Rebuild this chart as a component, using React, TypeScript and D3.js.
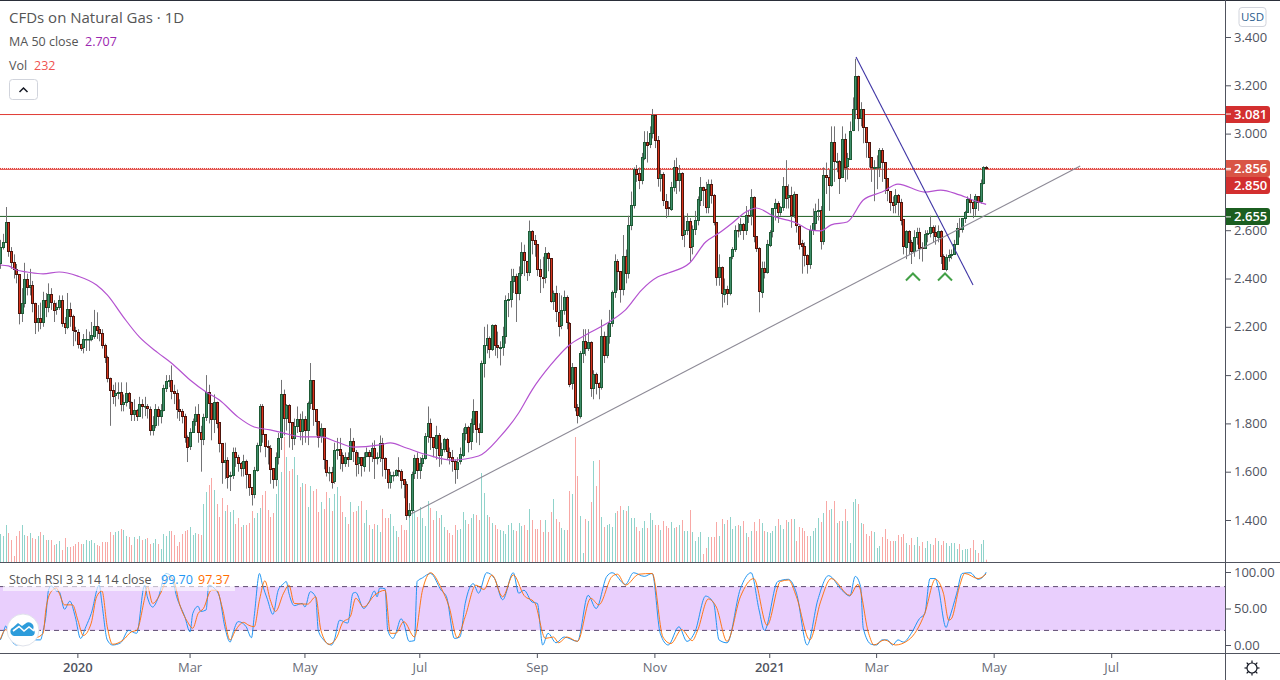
import React from 'react';
import * as d3 from 'd3';

// daily candles (index 0 = left edge)
const opens = [
  2.464,2.53,2.551,2.634,2.514,2.468,2.44,2.42,2.26,2.30,
  2.40,2.365,2.375,2.30,2.22,2.235,2.22,2.31,2.28,2.335,
  2.30,2.27,2.28,2.31,2.215,2.20,2.275,2.245,2.185,2.18,
  2.13,2.115,2.15,2.15,2.15,2.165,2.205,2.19,2.175,2.125,
  2.075,1.99,1.94,1.915,1.925,1.93,1.88,1.888,1.925,1.89,
  1.84,1.855,1.83,1.88,1.87,1.87,1.86,1.775,1.795,1.86,
  1.83,1.855,1.945,1.975,1.98,1.934,1.925,1.86,1.85,1.83,
  1.745,1.705,1.765,1.81,1.84,1.765,1.735,1.825,1.93,1.885,
  1.82,1.89,1.805,1.72,1.64,1.65,1.58,1.585,1.68,1.66,
  1.635,1.615,1.645,1.59,1.535,1.505,1.605,1.71,1.87,1.755,
  1.705,1.70,1.615,1.57,1.66,1.74,1.92,1.82,1.875,1.805,
  1.74,1.79,1.82,1.77,1.82,1.775,1.885,1.98,1.86,1.81,
  1.745,1.78,1.65,1.60,1.60,1.56,1.69,1.695,1.669,1.635,
  1.66,1.651,1.726,1.683,1.635,1.66,1.625,1.662,1.68,1.665,
  1.697,1.655,1.66,1.718,1.655,1.61,1.555,1.586,1.586,1.607,
  1.604,1.568,1.548,1.421,1.442,1.591,1.655,1.604,1.635,1.655,
  1.748,1.80,1.742,1.70,1.752,1.669,1.693,1.734,1.683,1.662,
  1.646,1.614,1.642,1.672,1.762,1.787,1.724,1.80,1.853,1.78,
  1.763,2.049,2.123,2.152,2.108,2.206,2.125,2.115,2.118,2.162,
  2.311,2.314,2.39,2.41,2.339,2.421,2.508,2.474,2.428,2.598,
  2.559,2.541,2.438,2.408,2.405,2.504,2.483,2.304,2.339,2.263,
  2.206,2.27,2.322,2.217,1.966,2.032,1.867,1.832,2.093,2.143,
  2.115,2.138,1.949,2.005,1.969,1.952,2.162,2.082,2.162,2.217,
  2.345,2.472,2.431,2.355,2.493,2.424,2.623,2.706,2.855,2.836,
  2.808,2.902,2.967,2.956,3.001,3.076,2.973,2.815,2.831,2.722,
  2.695,2.69,2.78,2.863,2.808,2.838,2.583,2.601,2.64,2.532,
  2.604,2.642,2.728,2.78,2.769,2.695,2.791,2.744,2.633,2.405,
  2.446,2.339,2.358,2.343,2.49,2.521,2.601,2.60,2.624,2.598,
  2.662,2.661,2.736,2.576,2.525,2.347,2.445,2.428,2.542,2.594,
  2.691,2.711,2.675,2.695,2.784,2.736,2.744,2.663,2.749,2.619,
  2.546,2.535,2.497,2.459,2.601,2.631,2.68,2.684,2.557,2.829,
  2.822,2.787,2.964,2.884,2.888,2.819,2.978,2.863,2.897,3.011,
  3.10,3.238,3.063,3.10,3.026,2.964,2.902,2.86,2.863,2.863,
  2.932,2.881,2.815,2.764,2.718,2.707,2.746,2.718,2.645,2.532,
  2.598,2.553,2.515,2.573,2.594,2.529,2.525,2.583,2.587,2.612,
  2.591,2.573,2.598,2.495,2.44,2.49,2.497,2.501,2.543,2.608,
  2.604,2.649,2.674,2.728,2.715,2.691,2.742,2.718,2.794,2.86,
];
const closes = [
  2.53,2.551,2.634,2.514,2.468,2.44,2.42,2.26,2.30,2.40,
  2.365,2.375,2.30,2.22,2.235,2.22,2.31,2.28,2.335,2.30,
  2.27,2.28,2.31,2.215,2.20,2.275,2.245,2.185,2.18,2.13,
  2.115,2.15,2.15,2.15,2.165,2.205,2.19,2.175,2.125,2.075,
  1.99,1.94,1.915,1.925,1.93,1.88,1.888,1.925,1.89,1.84,
  1.855,1.83,1.88,1.87,1.87,1.86,1.775,1.795,1.86,1.83,
  1.855,1.945,1.975,1.98,1.934,1.925,1.86,1.85,1.83,1.745,
  1.705,1.765,1.81,1.84,1.765,1.735,1.825,1.93,1.885,1.82,
  1.89,1.805,1.72,1.64,1.65,1.58,1.585,1.68,1.66,1.635,
  1.615,1.645,1.59,1.535,1.505,1.605,1.71,1.87,1.755,1.705,
  1.70,1.615,1.57,1.66,1.74,1.92,1.82,1.875,1.805,1.74,
  1.79,1.82,1.77,1.82,1.775,1.885,1.98,1.86,1.81,1.745,
  1.78,1.65,1.60,1.60,1.56,1.69,1.695,1.669,1.635,1.66,
  1.651,1.726,1.683,1.635,1.66,1.625,1.662,1.68,1.665,1.697,
  1.655,1.66,1.718,1.655,1.61,1.555,1.586,1.586,1.607,1.604,
  1.568,1.548,1.421,1.442,1.591,1.655,1.604,1.635,1.655,1.748,
  1.80,1.742,1.70,1.752,1.669,1.693,1.734,1.683,1.662,1.646,
  1.614,1.642,1.672,1.762,1.787,1.724,1.80,1.853,1.78,1.763,
  2.049,2.123,2.152,2.108,2.206,2.125,2.115,2.118,2.162,2.311,
  2.314,2.39,2.41,2.339,2.421,2.508,2.474,2.428,2.598,2.559,
  2.541,2.438,2.408,2.405,2.504,2.483,2.304,2.339,2.263,2.206,
  2.27,2.322,2.217,1.966,2.032,1.867,1.832,2.093,2.143,2.115,
  2.138,1.949,2.005,1.969,1.952,2.162,2.082,2.162,2.217,2.345,
  2.472,2.431,2.355,2.493,2.424,2.623,2.706,2.855,2.836,2.808,
  2.902,2.967,2.956,3.001,3.076,2.973,2.815,2.831,2.722,2.695,
  2.69,2.78,2.863,2.808,2.838,2.583,2.601,2.64,2.532,2.604,
  2.642,2.728,2.78,2.769,2.695,2.791,2.744,2.633,2.405,2.446,
  2.339,2.358,2.343,2.49,2.521,2.601,2.60,2.624,2.598,2.662,
  2.661,2.736,2.576,2.525,2.347,2.445,2.428,2.542,2.594,2.691,
  2.711,2.675,2.695,2.784,2.736,2.744,2.663,2.749,2.619,2.546,
  2.535,2.497,2.459,2.601,2.631,2.68,2.684,2.557,2.829,2.822,
  2.787,2.964,2.884,2.888,2.819,2.978,2.863,2.897,3.011,3.10,
  3.238,3.063,3.10,3.026,2.964,2.902,2.86,2.863,2.863,2.932,
  2.881,2.815,2.764,2.718,2.707,2.746,2.718,2.645,2.532,2.598,
  2.553,2.515,2.573,2.594,2.529,2.525,2.583,2.587,2.612,2.591,
  2.573,2.598,2.495,2.44,2.49,2.497,2.501,2.543,2.608,2.604,
  2.649,2.674,2.728,2.715,2.691,2.742,2.718,2.794,2.86,2.856,
];
const highs = [
  2.56,2.585,2.696,2.55,2.53,2.50,2.46,2.35,2.36,2.465,
  2.42,2.44,2.39,2.30,2.29,2.30,2.345,2.34,2.38,2.36,
  2.31,2.30,2.33,2.33,2.24,2.34,2.30,2.25,2.20,2.19,
  2.13,2.17,2.19,2.18,2.22,2.27,2.26,2.20,2.19,2.13,
  2.08,1.99,1.96,1.97,1.97,1.97,1.92,1.97,1.93,1.89,
  1.90,1.86,1.91,1.90,1.91,1.88,1.87,1.83,1.88,1.87,
  1.88,1.96,2.00,2.00,2.04,1.96,1.94,1.90,1.86,1.84,
  1.75,1.78,1.82,1.87,1.88,1.79,1.84,2.00,1.96,1.87,
  1.92,1.89,1.75,1.69,1.72,1.66,1.60,1.70,1.70,1.67,
  1.64,1.67,1.65,1.56,1.52,1.62,1.72,1.88,1.88,1.73,
  1.73,1.71,1.58,1.68,1.76,1.98,1.94,1.88,1.88,1.78,
  1.82,1.87,1.84,1.85,1.83,1.89,2.05,1.93,1.84,1.80,
  1.80,1.73,1.62,1.62,1.62,1.72,1.74,1.74,1.68,1.68,
  1.68,1.78,1.74,1.69,1.68,1.66,1.68,1.70,1.69,1.72,
  1.73,1.68,1.75,1.74,1.66,1.58,1.60,1.60,1.61,1.66,
  1.61,1.56,1.56,1.47,1.60,1.67,1.68,1.66,1.67,1.76,
  1.87,1.82,1.74,1.79,1.76,1.72,1.74,1.74,1.70,1.69,
  1.65,1.66,1.70,1.78,1.80,1.79,1.82,1.90,1.83,1.80,
  2.06,2.20,2.21,2.16,2.21,2.21,2.18,2.14,2.20,2.33,
  2.34,2.44,2.44,2.42,2.45,2.55,2.54,2.47,2.64,2.60,
  2.58,2.54,2.48,2.49,2.53,2.51,2.48,2.35,2.37,2.34,
  2.33,2.35,2.33,2.22,2.05,2.03,1.88,2.10,2.19,2.19,
  2.19,2.14,2.02,2.01,1.97,2.23,2.18,2.21,2.27,2.35,
  2.50,2.48,2.40,2.58,2.52,2.66,2.76,2.86,2.87,2.86,
  2.92,3.01,3.01,3.03,3.102,3.08,2.99,2.85,2.84,2.75,
  2.72,2.80,2.89,2.90,2.87,2.84,2.66,2.67,2.65,2.62,
  2.68,2.74,2.82,2.78,2.80,2.81,2.81,2.75,2.63,2.50,
  2.45,2.40,2.37,2.49,2.53,2.62,2.63,2.65,2.63,2.70,
  2.68,2.77,2.74,2.57,2.53,2.47,2.47,2.56,2.60,2.69,
  2.73,2.72,2.70,2.82,2.89,2.79,2.78,2.76,2.75,2.62,
  2.56,2.55,2.50,2.62,2.69,2.71,2.73,2.70,2.86,2.88,
  2.85,3.03,3.03,2.92,2.89,3.03,3.0,2.92,3.05,3.15,
  3.31,3.24,3.13,3.10,3.00,2.95,2.88,2.89,2.91,2.94,
  2.94,2.85,2.79,2.76,2.74,2.77,2.75,2.73,2.56,2.60,
  2.60,2.56,2.60,2.61,2.61,2.55,2.60,2.60,2.66,2.62,
  2.62,2.62,2.60,2.50,2.50,2.52,2.52,2.56,2.63,2.65,
  2.65,2.68,2.74,2.75,2.72,2.75,2.74,2.81,2.865,2.866,
];
const lows = [
  2.44,2.52,2.55,2.49,2.44,2.40,2.38,2.21,2.22,2.28,
  2.33,2.33,2.26,2.17,2.18,2.19,2.20,2.24,2.26,2.27,
  2.22,2.25,2.27,2.20,2.17,2.19,2.20,2.12,2.14,2.11,
  2.10,2.09,2.10,2.10,2.14,2.15,2.15,2.14,2.11,2.05,
  1.97,1.79,1.88,1.87,1.90,1.85,1.85,1.87,1.86,1.81,
  1.81,1.81,1.83,1.82,1.83,1.82,1.75,1.75,1.78,1.79,
  1.80,1.85,1.93,1.95,1.90,1.88,1.82,1.81,1.80,1.72,
  1.64,1.69,1.77,1.79,1.72,1.60,1.71,1.81,1.80,1.73,
  1.76,1.78,1.68,1.55,1.57,1.53,1.52,1.57,1.62,1.60,
  1.58,1.58,1.53,1.50,1.46,1.49,1.60,1.68,1.72,1.66,
  1.63,1.55,1.53,1.54,1.63,1.69,1.75,1.77,1.70,1.69,
  1.71,1.76,1.73,1.71,1.72,1.71,1.86,1.79,1.75,1.70,
  1.72,1.61,1.58,1.56,1.53,1.55,1.65,1.61,1.60,1.62,
  1.62,1.65,1.64,1.58,1.59,1.58,1.60,1.66,1.60,1.64,
  1.57,1.63,1.64,1.58,1.57,1.53,1.53,1.56,1.58,1.58,
  1.53,1.49,1.40,1.41,1.43,1.57,1.57,1.57,1.62,1.65,
  1.72,1.69,1.66,1.65,1.62,1.63,1.68,1.65,1.63,1.60,
  1.55,1.57,1.63,1.66,1.73,1.68,1.69,1.76,1.72,1.71,
  1.76,1.99,2.09,2.07,2.10,2.08,2.07,2.04,2.08,2.13,
  2.24,2.28,2.34,2.22,2.31,2.41,2.41,2.39,2.41,2.50,
  2.49,2.41,2.34,2.36,2.38,2.43,2.30,2.27,2.22,2.16,
  2.19,2.25,2.19,1.95,1.94,1.85,1.80,1.82,2.05,2.08,
  2.10,1.91,1.90,1.92,1.90,1.94,2.05,2.07,2.13,2.20,
  2.32,2.35,2.30,2.33,2.38,2.40,2.60,2.69,2.80,2.77,
  2.79,2.89,2.88,2.94,2.98,2.94,2.78,2.76,2.70,2.65,
  2.66,2.68,2.76,2.75,2.76,2.56,2.53,2.58,2.47,2.50,
  2.58,2.62,2.70,2.70,2.67,2.67,2.71,2.62,2.37,2.37,
  2.28,2.30,2.29,2.33,2.48,2.51,2.57,2.58,2.56,2.58,
  2.63,2.62,2.55,2.51,2.26,2.32,2.40,2.42,2.53,2.57,
  2.64,2.63,2.66,2.68,2.69,2.69,2.61,2.65,2.59,2.52,
  2.42,2.45,2.42,2.44,2.58,2.60,2.64,2.52,2.54,2.75,
  2.68,2.78,2.80,2.84,2.75,2.83,2.80,2.81,2.91,3.01,
  3.06,3.01,3.03,2.96,2.90,2.86,2.80,2.72,2.77,2.82,
  2.80,2.75,2.72,2.68,2.67,2.67,2.66,2.62,2.50,2.48,
  2.50,2.46,2.49,2.54,2.48,2.47,2.53,2.55,2.57,2.55,
  2.54,2.55,2.46,2.44,2.43,2.47,2.48,2.52,2.55,2.57,
  2.59,2.63,2.68,2.67,2.65,2.66,2.68,2.71,2.79,2.85,
];
// volume in hundreds
const volumes = [
  28,26,37,29,22,6,26,31,37,27,
  26,29,24,23,26,30,27,22,22,22,
  17,18,21,12,24,15,15,16,18,20,
  18,18,22,21,22,19,17,16,20,20,
  20,30,27,30,31,33,32,26,25,17,
  25,23,26,22,23,24,18,19,23,18,
  13,28,26,31,31,27,16,20,28,31,
  32,35,27,29,28,27,58,70,77,84,
  72,58,45,64,51,57,50,52,38,44,
  35,37,37,39,51,44,49,54,67,71,
  52,45,49,68,82,90,125,105,91,93,
  105,87,75,79,78,55,76,71,73,50,
  60,53,70,64,51,68,75,66,
  50,45,38,60,50,51,56,61,39,52,
  37,33,38,37,30,53,44,44,48,36,
  31,25,37,32,32,47,52,52,45,55,
  44,36,61,54,42,51,44,47,35,32,
  29,27,37,32,33,50,42,38,44,48,
  47,42,89,69,47,45,39,37,33,32,
  31,28,37,39,32,31,39,36,37,32,
  53,42,33,33,42,30,42,30,50,63,
  43,40,34,32,32,
  71,68,125,86,46,9,43,41,60,101,
  76,102,45,35,37,38,35,49,51,56,
  52,51,56,44,44,35,31,34,41,34,
  49,42,37,37,32,41,36,34,40,34,
  35,37,42,31,31,52,30,21,25,30,
  8,14,25,25,25,40,26,43,38,42,
  45,33,36,37,36,41,29,25,31,40,
  31,43,39,31,30,29,31,36,43,37,
  33,42,40,43,43,21,35,34,31,26,
  26,31,34,44,40,49,61,52,53,61,
  39,41,41,53,41,
  19,60,63,58,39,38,28,26,31,30,
  14,16,25,33,23,21,21,21,27,25,
  28,19,17,24,17,25,16,20,14,21,
  18,17,24,21,17,21,19,16,19,19,
  13,18,12,13,13,14,22,12,9,18,
  22,2.32,
];

// MA 50 readings: bar index + price
const maBars = [0,3,6,10,16,22,29,36,40,46,52,59,64,71,77,82,89,95,101,106,113,120,126,132,142,146,152,160,169,179,187,194,199,206,213,219,229,234,240,246,250,258,264,269,274,279,283,290,298,303,307,311,317,323,330,336,346,352,359,366,369];
const maValues = [2.456,2.452,2.435,2.427,2.419,2.427,2.41,2.373,2.332,2.241,2.158,2.092,2.05,1.98,1.93,1.897,1.826,1.785,1.773,1.76,1.744,1.744,1.723,1.702,1.711,1.719,1.698,1.669,1.648,1.665,1.744,1.843,1.938,2.042,2.125,2.166,2.228,2.27,2.352,2.406,2.423,2.464,2.551,2.588,2.63,2.675,2.692,2.655,2.63,2.601,2.597,2.622,2.634,2.725,2.758,2.791,2.758,2.766,2.746,2.717,2.707];

// Stoch RSI readings
const kBars = [0,1,2,3,6,12,15,16,17,18,19,21,22,24,26,28,30,32,34,37,38,40,42,45,48,51,54,55,57,59,62,64,66,69,71,72,74,75,77,78,80,82,84,86,87,89,91,92,94,95,97,98,100,102,104,106,107,108,110,113,114,116,118,119,121,124,125,127,130,132,133,136,138,140,141,142,144,145,147,148,150,151,153,155,156,158,161,165,167,170,172,174,177,179,182,185,188,192,194,196,199,201,203,205,208,211,216,220,223,227,229,234,237,241,244,247,250,254,257,260,264,267,269,272,277,281,284,286,291,295,298,302,306,310,315,318,320,322,323,326,328,330,332,334,336,338,341,344,346,348,350,351,354,355,358,360,363,366,368,369];
const kValues = [7,16,26,16,0,7,7,20,39,75,81,74,73,49,60,39,9,25,43,82,57,7,0,3,20,16,82,66,52,64,98,94,66,39,18,43,53,46,48,82,78,66,25,4,16,32,29,25,10,39,98,84,62,42,75,84,87,71,54,57,52,73,66,20,7,0,7,34,30,71,72,50,59,74,66,78,77,20,9,16,36,30,5,6,87,92,98,75,66,9,11,57,84,71,99,91,62,99,71,75,59,57,0,16,3,11,5,68,50,94,99,83,99,94,98,16,0,25,5,18,67,57,7,3,77,99,48,20,87,90,71,0,62,95,75,67,94,80,23,1,0,7,7,0,7,4,16,36,43,91,91,80,24,34,71,98,99,90,94,99.7];
const dBars = [0,2,6,13,16,17,19,21,22,24,27,29,31,34,36,38,40,42,46,49,51,54,55,57,60,63,65,67,70,72,74,76,79,81,83,86,88,91,93,95,97,99,101,103,106,108,110,115,118,120,123,126,128,131,133,136,140,144,146,148,151,155,158,161,165,168,171,174,178,181,184,188,192,196,200,204,207,209,212,216,221,224,229,231,234,239,244,248,251,255,259,261,265,268,272,277,282,287,292,295,298,303,307,311,318,321,325,327,331,335,340,343,346,350,353,355,356,359,361,366,369];
const dValues = [8,21,2,9,16,48,73,78,71,55,55,34,13,30,66,74,25,1,7,18,20,64,80,57,71,94,87,57,32,23,43,50,75,75,52,7,20,31,27,25,62,88,62,46,71,82,57,56,66,20,1,11,30,39,64,52,68,75,16,16,32,11,75,99,78,52,10,39,82,76,96,66,96,68,58,9,11,3,11,5,64,55,94,97,82,97,98,11,2,21,6,20,63,52,5,66,91,27,87,89,66,7,59,91,68,83,16,0,7,0,7,20,43,90,71,34,36,80,98,91,97.37];

// reference levels
const redLevel = 3.081;
const lastPrice = 2.856;
const prevLevel = 2.85;
const greenLevel = 2.655;

// drawn trend lines, [bar, price]
const supportLine: [number, number][] = [[153.7, 1.425], [404.2, 2.866]];
const fallLine: [number, number][] = [[320.3, 3.317], [364.1, 2.373]];
const bottomBars = [341.6, 353.6];

const priceTicks = [3.4, 3.2, 3.0, 2.6, 2.4, 2.2, 2.0, 1.8, 1.6, 1.4];
const stochTicks = [100, 50, 0];
const timeBars = [29, 71, 114, 157, 201, 245, 288, 328, 372, 416];
const timeLabels = ['2020', 'Mar', 'May', 'Jul', 'Sep', 'Nov', '2021', 'Mar', 'May', 'Jul'];

const x = d3.scaleLinear().domain([0, 416]).range([0.4, 1111.7]);
const y = d3.scaleLinear().domain([1.4, 3.4]).range([520, 37]);
const yVol = d3.scaleLinear().domain([0, 125]).range([562, 437]);
const yStoch = d3.scaleLinear().domain([0, 100]).range([645, 572]);

const FONT = '"Open Sans", "Noto Sans", sans-serif';
const AXIS_TEXT = '#50535e';
const LINE = '#50535e';

function lineFrom(bars: number[], values: number[], sy: d3.ScaleLinear<number, number>) {
  const gen = d3.line<number>().x((d) => x(d)).y((_, i) => sy(values[i])).curve(d3.curveMonotoneX);
  return gen(bars) || '';
}

function PriceTag({ price, cy, fill, label }: { price: number; cy: number; fill: string; label: string }) {
  return (
    <g>
      <path d={`M1226 ${cy - 8.5}H1267a3 3 0 0 1 3 3V${cy + 5.5}a3 3 0 0 1 -3 3H1226Z`} fill={fill} />
      <line x1={1226} x2={1231} y1={y(price)} y2={y(price)} stroke="#fff" />
      <text x={1234} y={cy + 4.5} fontSize={13} fontWeight={600} fill="#fff">{label}</text>
    </g>
  );
}

export default function App() {
  return (
    <svg width={1280} height={680} viewBox="0 0 1280 680" fontFamily={FONT}
      style={{ position: 'absolute', left: 0, top: 0, background: '#fff' }}>
      <rect x={0} y={0} width={1280} height={1} fill="#2a2e39" />

      {/* volume */}
      {volumes.map((v, i) => (
        <rect key={i} x={Math.round(x(i))} y={yVol(v)} width={1} height={562 - yVol(v)}
          fill={closes[i] < opens[i] ? '#f8a8a5' : '#90d3cb'} />
      ))}

      {/* levels */}
      <line x1={0} x2={1226} y1={y(redLevel) + 0.5} y2={y(redLevel) + 0.5} stroke="#e03a34" />
      <line x1={0} x2={1226} y1={y(prevLevel) - 0.5} y2={y(prevLevel) - 0.5} stroke="#e03a34" />
      <line x1={0} x2={1226} y1={y(lastPrice) + 0.1} y2={y(lastPrice) + 0.1} stroke="#e03a34" strokeDasharray="1 1" />
      <line x1={0} x2={1226} y1={y(greenLevel) - 0.5} y2={y(greenLevel) - 0.5} stroke="#1b5e20" />

      {/* candles */}
      {closes.map((c, i) => {
        const px = Math.round(x(i)) + 0.5;
        const top = y(Math.max(c, opens[i]));
        const bottom = y(Math.min(c, opens[i]));
        const down = c < opens[i];
        return (
          <g key={i}>
            <line x1={px} x2={px} y1={y(highs[i])} y2={y(lows[i])} stroke="#737375" />
            <rect x={px - 1} y={Math.round(top) + 0.5} width={2} height={Math.max(Math.round(bottom - top), 0.5)}
              fill={down ? '#d8341c' : '#3f8f6b'} stroke={down ? '#4c150d' : '#1e5a35'} strokeWidth={1} />
          </g>
        );
      })}

      {/* moving average */}
      <path d={lineFrom(maBars, maValues, y)} fill="none" stroke="#b452d0" strokeWidth={1.2} />

      {/* trend lines */}
      <line x1={x(supportLine[0][0])} y1={y(supportLine[0][1])} x2={x(supportLine[1][0])} y2={y(supportLine[1][1])} stroke="#8d8a96" strokeWidth={1.1} />
      <line x1={x(fallLine[0][0])} y1={y(fallLine[0][1])} x2={x(fallLine[1][0])} y2={y(fallLine[1][1])} stroke="#3f35a5" strokeWidth={1.1} />
      {bottomBars.map((b) => (
        <path key={b} d={`M${x(b) - 7} 280.5L${x(b)} 273.5L${x(b) + 7} 280.5`} fill="none" stroke="#43a047" strokeWidth={2} />
      ))}

      {/* legend */}
      <text x={9} y={23} fontSize={15} fill="#555">CFDs on Natural Gas · 1D</text>
      <text x={9} y={46} fontSize={12.5} fill="#555">MA 50 close</text>
      <text x={85} y={46} fontSize={12.5} fill="#9c27b0">2.707</text>
      <text x={9} y={70} fontSize={12.5} fill="#555">Vol</text>
      <text x={34} y={70} fontSize={12.5} fill="#ef5350">232</text>
      <rect x={9.5} y={79.5} width={28} height={20} rx={3} fill="#fff" stroke="#d1d4dc" />
      <path d="M19.5 92L23.5 88L27.5 92" fill="none" stroke="#131722" strokeWidth={1.5} />

      {/* stoch pane */}
      <rect x={0} y={yStoch(80)} width={1226} height={yStoch(20) - yStoch(80)} fill="#e9cffd" />
      <line x1={0} x2={1226} y1={yStoch(80)} y2={yStoch(80)} stroke="#5d4a70" strokeDasharray="5 4" />
      <line x1={0} x2={1226} y1={yStoch(20)} y2={yStoch(20)} stroke="#5d4a70" strokeDasharray="5 4" />
      <path d={lineFrom(kBars, kValues, yStoch)} fill="none" stroke="#2196f3" />
      <path d={lineFrom(dBars, dValues, yStoch)} fill="none" stroke="#ff6d00" opacity={0.9} />
      <rect x={3} y={572} width={232} height={19} fill="#fff" opacity={0.6} />
      <text x={9} y={584} fontSize={12.5} fill="#555">Stoch RSI 3 3 14 14 close</text>
      <text x={161} y={584} fontSize={12.5} fill="#2196f3">99.70</text>
      <text x={198} y={584} fontSize={12.5} fill="#ff6d00">97.37</text>

      {/* logo */}
      <circle cx={23} cy={630} r={16} fill="#fff" stroke="#e0e3eb" />
      <path d="M14 636a4.5 4.5 0 0 1 -1 -8.5l5 -4.5l4 3l5 -3.500a5 5 0 0 1 6 7a3.500 3.500 0 0 1 -1 6.500Z" fill="#2d9cdb" />
      <path d="M13 631l6 -4.500l5 4.500l5 -4l5 4" fill="none" stroke="#fff" strokeWidth={1.6} />

      {/* pane borders */}
      <line x1={0} x2={1280} y1={562.5} y2={562.5} stroke={LINE} />
      <line x1={0} x2={1226} y1={653.5} y2={653.5} stroke={LINE} />
      <line x1={1226} x2={1280} y1={653.5} y2={653.5} stroke={LINE} />
      <line x1={1225.5} x2={1225.5} y1={0} y2={680} stroke={LINE} />

      {/* price axis */}
      {priceTicks.map((t) => (
        <g key={t}>
          <line x1={1226} x2={1231} y1={y(t) + 0.5} y2={y(t) + 0.5} stroke={LINE} />
          <text x={1234} y={y(t) + 4.5} fontSize={13} fill={AXIS_TEXT}>{d3.format('.3f')(t)}</text>
        </g>
      ))}
      <PriceTag price={redLevel} cy={114.5} fill="#d32f2f" label="3.081" />
      <PriceTag price={lastPrice} cy={168.5} fill="#d95445" label="2.856" />
      <PriceTag price={prevLevel} cy={185.5} fill="#d32f2f" label="2.850" />
      <PriceTag price={greenLevel} cy={216.5} fill="#1b5e20" label="2.655" />
      <rect x={1239} y={7.5} width={27} height={19} rx={3} fill="#fff" stroke="#d1d4dc" />
      <text x={1252.5} y={21} fontSize={11.5} textAnchor="middle" fill="#2a5d8f">USD</text>

      {stochTicks.map((t) => (
        <g key={t}>
          <line x1={1226} x2={1231} y1={yStoch(t) + 0.5} y2={yStoch(t) + 0.5} stroke={LINE} />
          <text x={1234} y={yStoch(t) + 4.5} fontSize={13} fill={AXIS_TEXT}>{d3.format('.2f')(t)}</text>
        </g>
      ))}

      {/* time axis */}
      {timeBars.map((b, i) => (
        <g key={b}>
          <line x1={x(b)} x2={x(b)} y1={654} y2={658} stroke={LINE} />
          <text x={x(b)} y={672} fontSize={13} textAnchor="middle"
            fill={timeLabels[i].length === 4 ? AXIS_TEXT : '#6a6d78'}
            fontWeight={timeLabels[i].length === 4 ? 600 : 400}>{timeLabels[i]}</text>
        </g>
      ))}

      {/* settings icon */}
      <circle cx={1252} cy={668} r={5} fill="#fff" stroke="#131722" strokeWidth={1.2} />
      {d3.range(8).map((k) => {
        const a = (k * Math.PI) / 4;
        return <line key={k} x1={1252 + 5 * Math.cos(a)} y1={668 + 5 * Math.sin(a)} x2={1252 + 7.5 * Math.cos(a)} y2={668 + 7.5 * Math.sin(a)} stroke="#131722" strokeWidth={1.2} />;
      })}
    </svg>
  );
}
